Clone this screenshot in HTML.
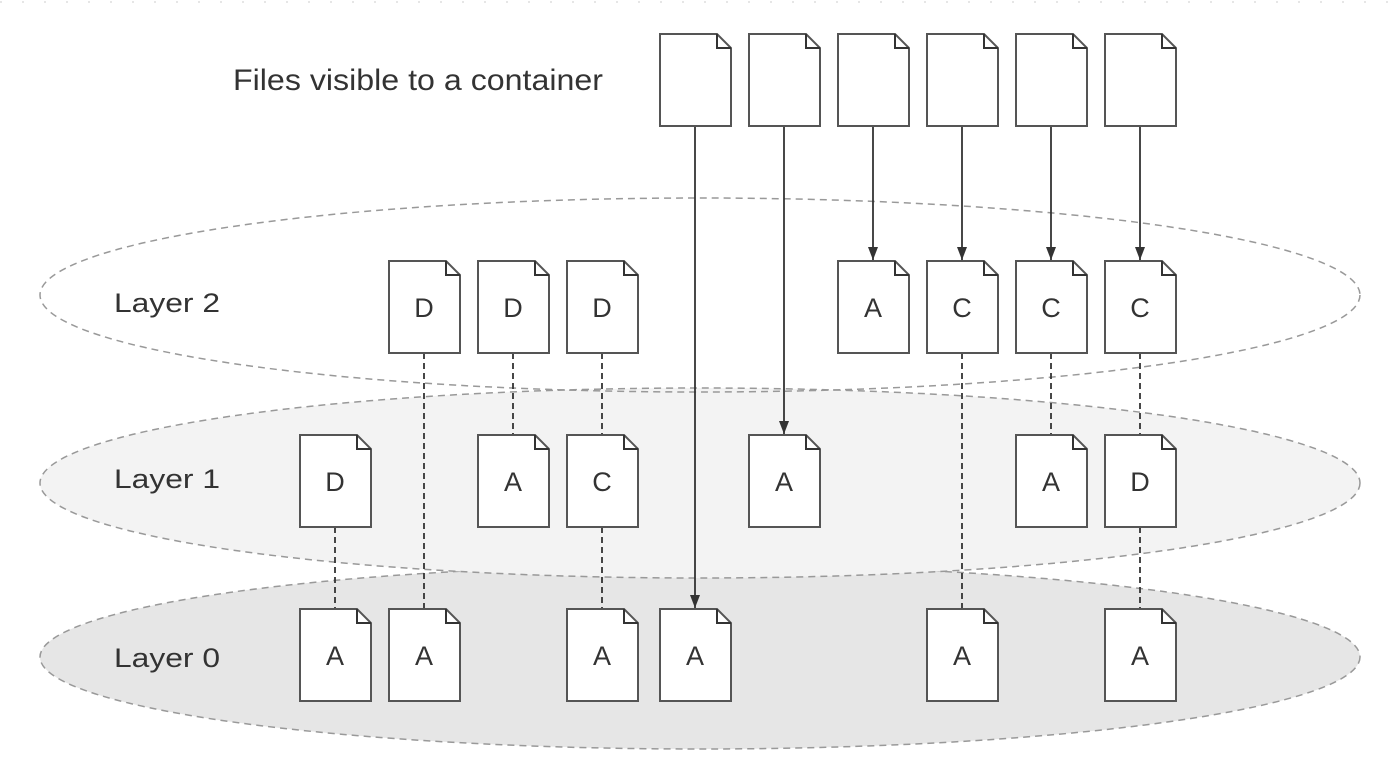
<!DOCTYPE html>
<html><head><meta charset="utf-8"><style>body{margin:0;background:#fff}svg{display:block}</style></head><body>
<svg width="1400" height="776" viewBox="0 0 1400 776" xmlns="http://www.w3.org/2000/svg" font-family="Liberation Sans, sans-serif">
<defs>
<marker id="ah" markerWidth="13" markerHeight="10" refX="13" refY="5" orient="auto" markerUnits="userSpaceOnUse" viewBox="0 0 13 10"><path d="M0,0 L13,5 L0,10 z" fill="#333"/></marker>
<g id="doc"><path d="M0,0 H57 L71,14 V92 H0 Z" fill="#fff" stroke="#555" stroke-width="2"/><path d="M57,0 V14 H71" fill="none" stroke="#333" stroke-width="2"/></g>
</defs>
<line x1="0" y1="2" x2="1400" y2="2" stroke="#ccc" stroke-width="1" stroke-dasharray="2,20"/>
<ellipse cx="700" cy="657" rx="660" ry="92" fill="#e6e6e6" stroke="#999" stroke-width="1.5" stroke-dasharray="7,5"/>
<ellipse cx="700" cy="483" rx="660" ry="95" fill="#f3f3f3" stroke="#999" stroke-width="1.5" stroke-dasharray="7,5"/>
<ellipse cx="700" cy="295" rx="660" ry="97" fill="none" stroke="#999" stroke-width="1.5" stroke-dasharray="7,5"/>
<g fill="#333" font-size="30"><text x="233" y="90" textLength="370" lengthAdjust="spacingAndGlyphs">Files visible to a container</text></g>
<g fill="#333" font-size="27">
<text x="114" y="312" textLength="106" lengthAdjust="spacingAndGlyphs">Layer 2</text>
<text x="114" y="488" textLength="106" lengthAdjust="spacingAndGlyphs">Layer 1</text>
<text x="114" y="667" textLength="106" lengthAdjust="spacingAndGlyphs">Layer 0</text></g>
<g stroke="#333" stroke-width="1.8" stroke-dasharray="6,4" fill="none">
<line x1="424" y1="353" x2="424" y2="609"/>
<line x1="335" y1="527" x2="335" y2="609"/>
<line x1="513" y1="353" x2="513" y2="435"/>
<line x1="602" y1="353" x2="602" y2="435"/>
<line x1="602" y1="527" x2="602" y2="609"/>
<line x1="962" y1="353" x2="962" y2="609"/>
<line x1="1051" y1="353" x2="1051" y2="435"/>
<line x1="1140" y1="353" x2="1140" y2="435"/>
<line x1="1140" y1="527" x2="1140" y2="609"/>
</g>
<g stroke="#333" stroke-width="1.8" marker-end="url(#ah)">
<line x1="695" y1="126" x2="695" y2="608"/>
<line x1="784" y1="126" x2="784" y2="434"/>
<line x1="873" y1="126" x2="873" y2="260"/>
<line x1="962" y1="126" x2="962" y2="260"/>
<line x1="1051" y1="126" x2="1051" y2="260"/>
<line x1="1140" y1="126" x2="1140" y2="260"/>
</g>
<g>
<use href="#doc" x="660" y="34"/><use href="#doc" x="749" y="34"/><use href="#doc" x="838" y="34"/><use href="#doc" x="927" y="34"/><use href="#doc" x="1016" y="34"/><use href="#doc" x="1105" y="34"/>
<use href="#doc" x="389" y="261"/><use href="#doc" x="478" y="261"/><use href="#doc" x="567" y="261"/><use href="#doc" x="838" y="261"/><use href="#doc" x="927" y="261"/><use href="#doc" x="1016" y="261"/><use href="#doc" x="1105" y="261"/>
<use href="#doc" x="300" y="435"/><use href="#doc" x="478" y="435"/><use href="#doc" x="567" y="435"/><use href="#doc" x="749" y="435"/><use href="#doc" x="1016" y="435"/><use href="#doc" x="1105" y="435"/>
<use href="#doc" x="300" y="609"/><use href="#doc" x="389" y="609"/><use href="#doc" x="567" y="609"/><use href="#doc" x="660" y="609"/><use href="#doc" x="927" y="609"/><use href="#doc" x="1105" y="609"/>
</g>
<g fill="#333" font-size="27" text-anchor="middle">
<text x="424" y="317">D</text><text x="513" y="317">D</text><text x="602" y="317">D</text><text x="873" y="317">A</text><text x="962" y="317">C</text><text x="1051" y="317">C</text><text x="1140" y="317">C</text>
<text x="335" y="491">D</text><text x="513" y="491">A</text><text x="602" y="491">C</text><text x="784" y="491">A</text><text x="1051" y="491">A</text><text x="1140" y="491">D</text>
<text x="335" y="665">A</text><text x="424" y="665">A</text><text x="602" y="665">A</text><text x="695" y="665">A</text><text x="962" y="665">A</text><text x="1140" y="665">A</text>
</g>
</svg>
</body></html>
